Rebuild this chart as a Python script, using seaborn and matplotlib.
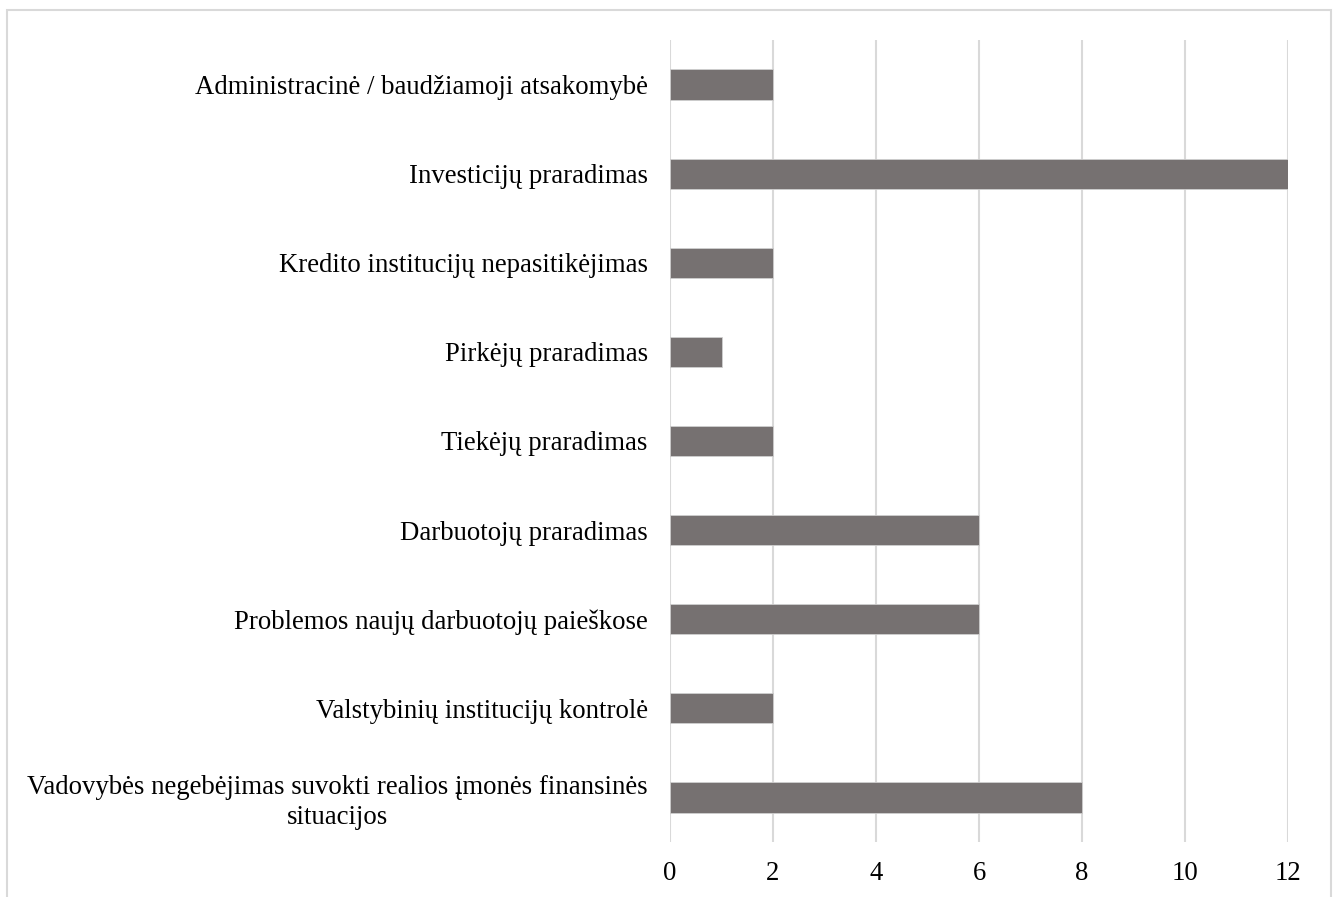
import matplotlib
matplotlib.use("Agg")
import matplotlib.pyplot as plt
import seaborn as sns
import pandas as pd
from matplotlib.patches import Rectangle

categories = [
    "Administracinė / baudžiamoji atsakomybė",
    "Investicijų praradimas",
    "Kredito institucijų nepasitikėjimas",
    "Pirkėjų praradimas",
    "Tiekėjų praradimas",
    "Darbuotojų praradimas",
    "Problemos naujų darbuotojų paieškose",
    "Valstybinių institucijų kontrolė",
    "Vadovybės negebėjimas suvokti realios įmonės finansinės\nsituacijos",
]
values = [2, 12, 2, 1, 2, 6, 6, 2, 8]
xticks = [0, 2, 4, 6, 8, 10, 12]

sns.set_theme(style="white")
plt.rcParams['font.family'] = ['Liberation Serif', 'DejaVu Serif']

df = pd.DataFrame({"cat": categories, "val": values})

fig = plt.figure(figsize=(13.36, 8.97), dpi=100)
ax = fig.add_axes([670/1336, 1-842/897, (1288-670)/1336, (842-40)/897])

sns.barplot(data=df, y="cat", x="val", orient="h", color="#767171",
            width=0.34, saturation=1, ax=ax, edgecolor="#cfcfcf", linewidth=0.6)

ax.set_xlim(0, 12)
ax.set_ylim(len(categories) - 0.5, -0.5)
ax.set_xticks(xticks)
ax.set_xticklabels([str(t) for t in xticks], fontsize=19.3)
ax.set_yticks(range(len(categories)))
ax.set_yticklabels(categories, fontsize=19.3, ha="right", multialignment="center",
                   linespacing=1.22)
ax.tick_params(axis="y", length=0, pad=16)
ax.tick_params(axis="x", length=0, pad=14)
ax.set_xlabel("")
ax.set_ylabel("")
for s in ax.spines.values():
    s.set_visible(False)
ax.grid(axis="x", color="#d9d9d9", linewidth=1.5)
ax.set_axisbelow(True)
for lbl in ax.get_xticklabels() + ax.get_yticklabels():
    lbl.set_color("black")

fig.patches.append(Rectangle((7/1336, -0.05), (1331-7)/1336, 1.05 - 10/897,
                             transform=fig.transFigure, fill=False,
                             edgecolor="#d9d9d9", linewidth=1.5))

fig.savefig("out.png", dpi=100, facecolor="white")
